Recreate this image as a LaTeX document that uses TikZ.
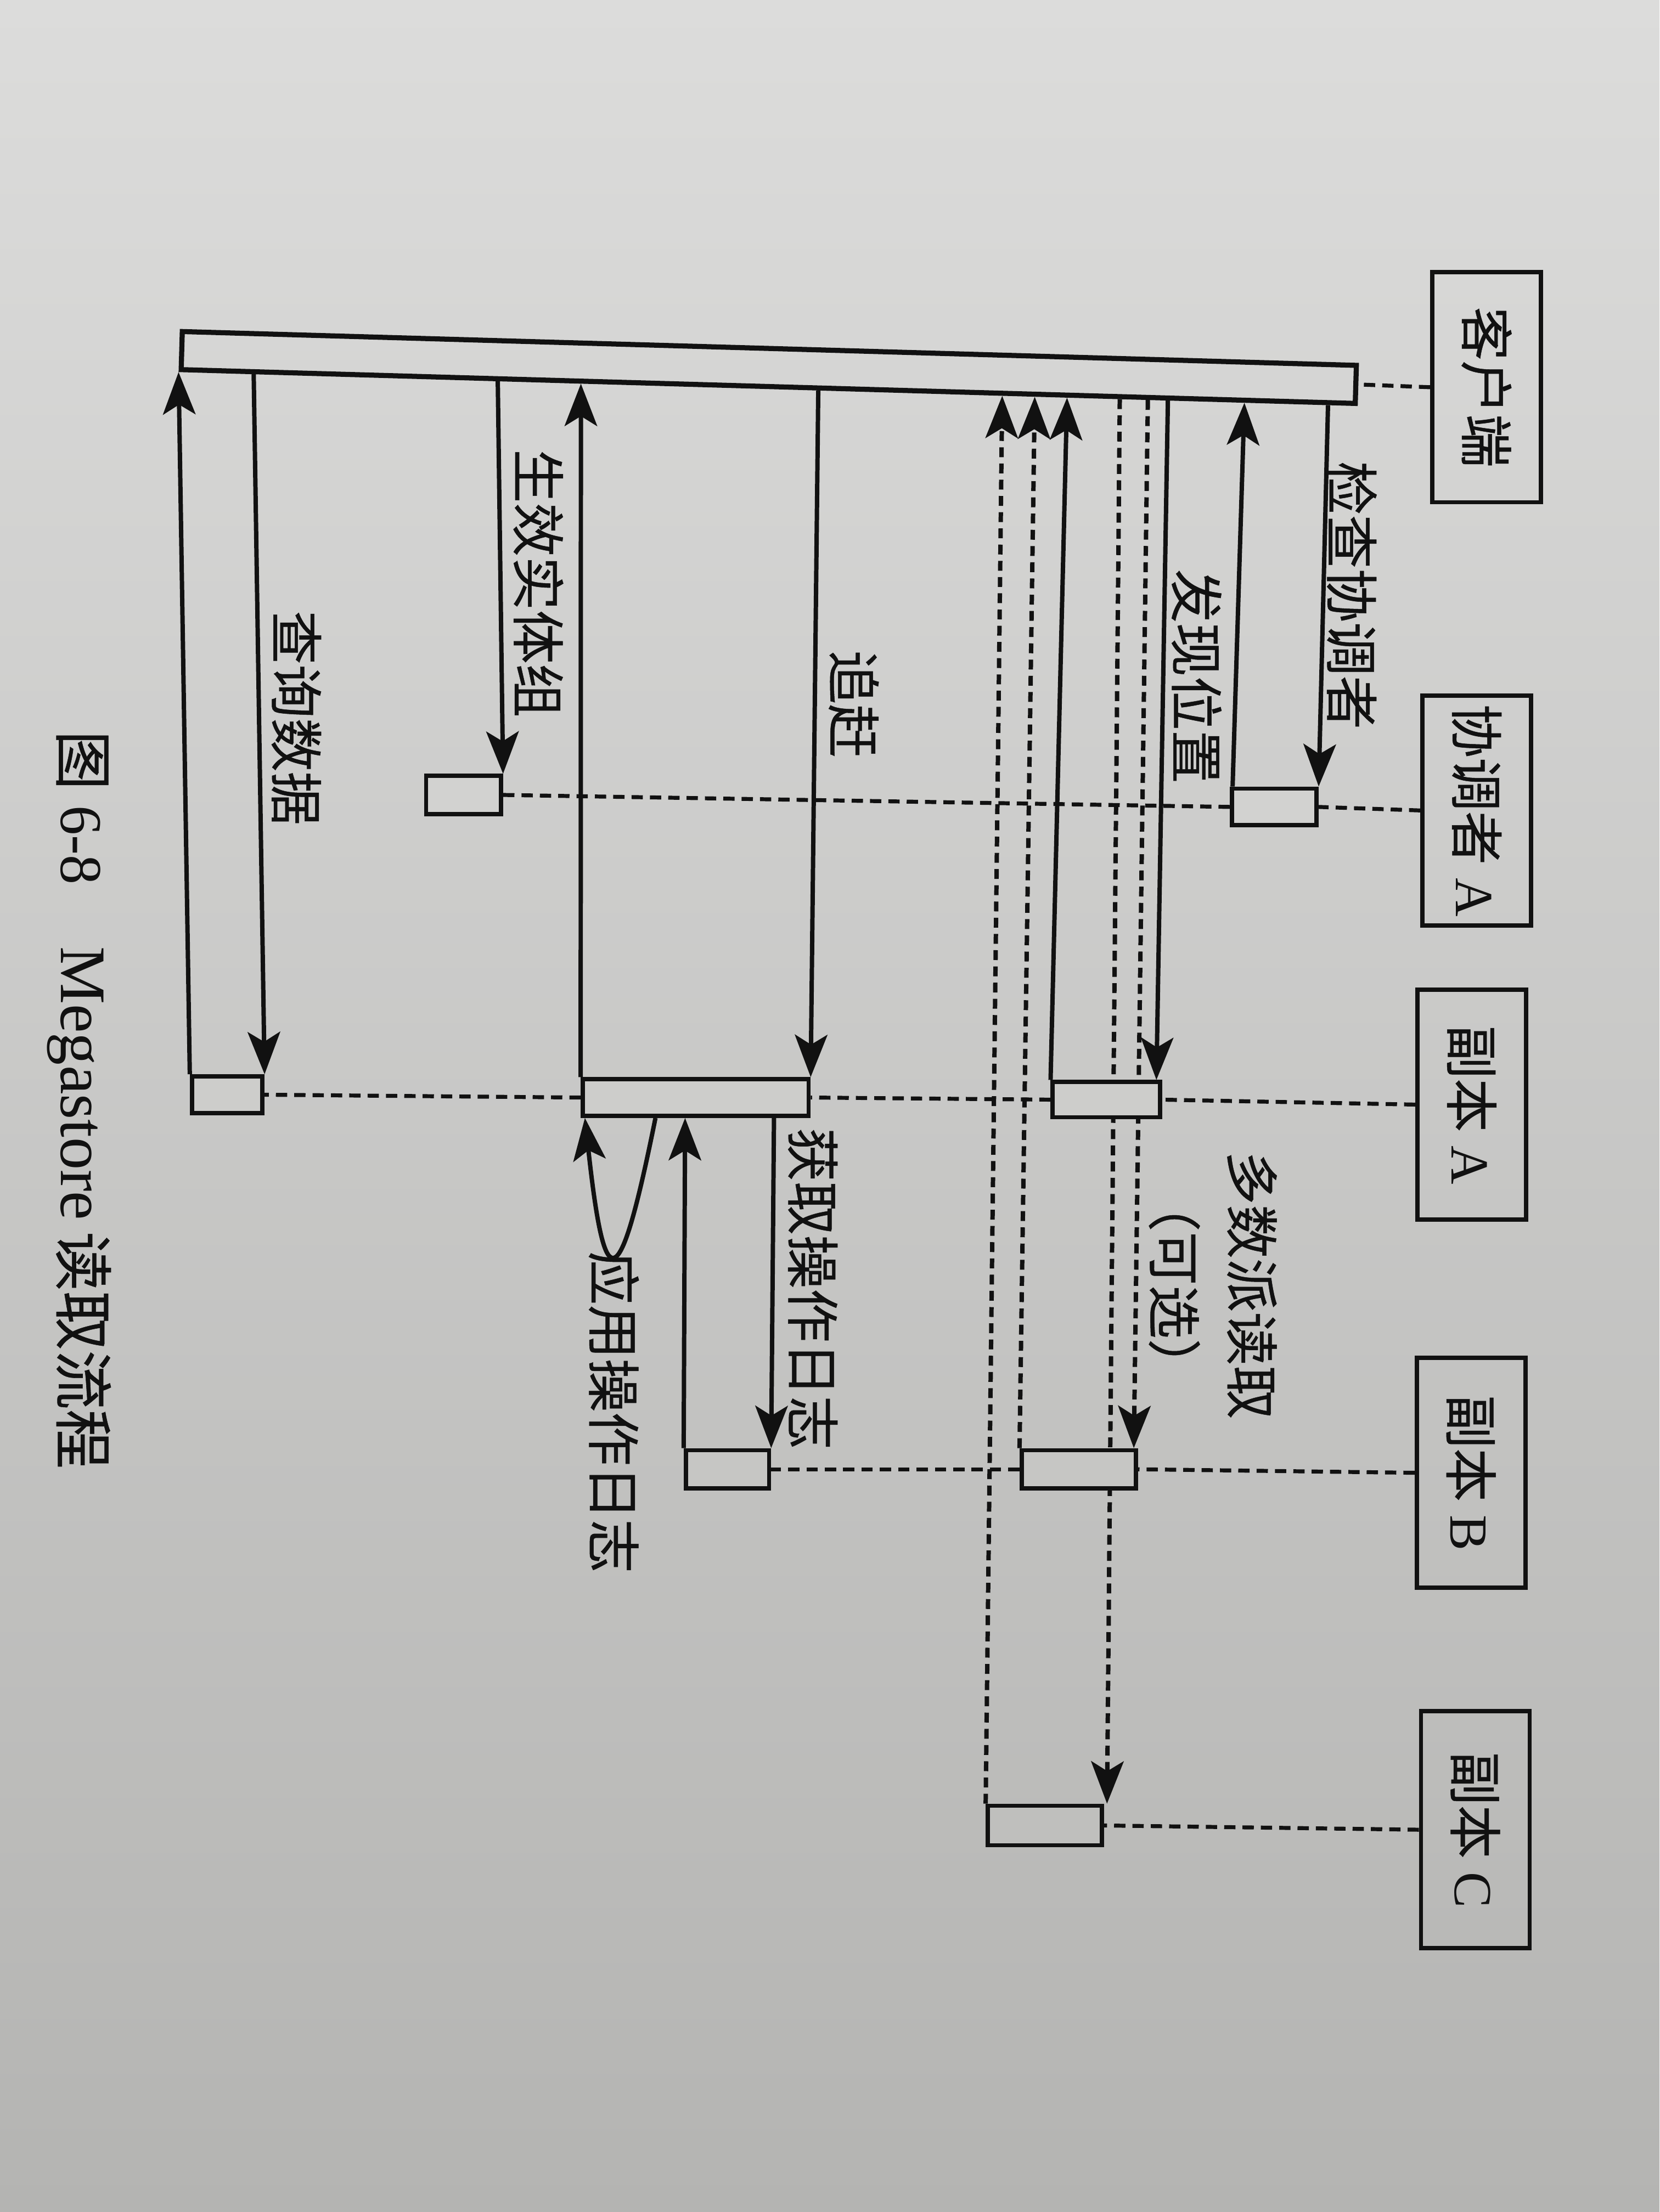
\documentclass[tikz,border=0pt]{standalone}
\usepackage{graphicx}
\usepackage{fontspec}
\setmainfont{Liberation Serif}
\newfontfamily\cjk{Noto Sans CJK SC}[FakeBold=0.5]
\usetikzlibrary{arrows.meta,calc}

\pgfdeclarelayer{paper}
\pgfdeclarelayer{wires}
\pgfsetlayers{paper,wires,main}

\definecolor{ink}{HTML}{111111}
\definecolor{papertop}{HTML}{DCDCDB}
\definecolor{papermid}{HTML}{CDCDCB}
\definecolor{paperbot}{HTML}{B4B4B2}
% paper tone at the height of each row of boxes
\definecolor{fillco}{HTML}{D2D2D0}
\definecolor{fillra}{HTML}{CDCDCB}
\definecolor{fillrb}{HTML}{C6C6C4}
\definecolor{fillrc}{HTML}{BFBFBD}

\begin{document}
\begin{tikzpicture}[x=1pt,y=-1pt,
  headtip/.style={-{Stealth[length=30pt,width=23pt,inset=7pt]}},
  msgline/.style={draw=ink, line width=3.1pt, headtip},
  qline/.style={msgline, dash pattern=on 7pt off 4.5pt},
  lifeline/.style={draw=ink, line width=2.8pt, dash pattern=on 8pt off 5pt},
  partbox/.style={draw=ink, line width=3pt, minimum width=77pt, minimum height=163pt,
    inner sep=0pt, text=ink, font=\fontsize{38}{46}\selectfont},
  actbox/.style={draw=ink, line width=3pt, inner sep=0pt},
  msglabel/.style={rotate=-90, inner sep=0pt, text=ink, align=center,
    font=\cjk\fontsize{38}{55}\selectfont}
]
\useasboundingbox (0,0) rectangle (1176,1568);

% page
\begin{pgfonlayer}{paper}
  \shade[top color=papertop, middle color=papermid, bottom color=paperbot]
    (0,0) rectangle (1176,1568);
\end{pgfonlayer}

% participants
\node[partbox] (cli) at (1053.5,274.5) {\rotatebox{-90}{\cjk 客户端}};
\node[partbox] (coo) at (1046.5,574.5) {\rotatebox{-90}{{\cjk 协调者} A}};
\node[partbox] (rA)  at (1043,783)     {\rotatebox{-90}{{\cjk 副本} A}};
\node[partbox] (rB)  at (1042.5,1044)  {\rotatebox{-90}{{\cjk 副本} B}};
\node[partbox, minimum height=168pt] (rC) at (1045.5,1297) {\rotatebox{-90}{{\cjk 副本} C}};

% client activation bar
\node[draw=ink, line width=3.6pt, inner sep=0pt, minimum width=832.4pt, minimum height=27pt,
      rotate=-1.65] (cb) at (544.8,260.5) {};

% activation boxes
\node[actbox, fill=fillco, minimum width=60pt, minimum height=26pt] (co1) at (903,572) {};
\node[actbox, fill=fillco, minimum width=53pt, minimum height=27pt] (ve)  at (328.5,563.5) {};
\node[actbox, fill=fillra, minimum width=76pt, minimum height=25pt] (a1)  at (784,779.5) {};
\node[actbox, fill=fillra, minimum width=160pt, minimum height=26pt] (cu) at (493,778) {};
\node[actbox, fill=fillra, minimum width=50pt, minimum height=26pt] (qd)  at (161,776) {};
\node[actbox, fill=fillrb, minimum width=59pt, minimum height=27pt] (gl)  at (515.5,1041.5) {};
\node[actbox, fill=fillrb, minimum width=81pt, minimum height=27pt] (qb)  at (764.5,1041.5) {};
\node[actbox, fill=fillrc, minimum width=81pt, minimum height=28pt] (qc)  at (740.5,1294) {};

\begin{pgfonlayer}{wires}
  % lifelines
  \draw[lifeline] (cli.west) -- (cb.east);
  \draw[lifeline] (coo.west) -- (co1.east);
  \draw[lifeline] (co1.west) -- (ve.east);
  \draw[lifeline] (rA.west) -- (a1.east);
  \draw[lifeline] (a1.west) -- (cu.east);
  \draw[lifeline] (cu.west) -- (qd.east);
  \draw[lifeline] (rB.west) -- (qb.east);
  \draw[lifeline] (qb.west) -- (gl.east);
  \draw[lifeline] (rC.west) -- (qc.east);

  % check coordinator
  \draw[msgline] ($(cb.south west)!0.9748!(cb.south east)$) -- (co1.north east);
  \draw[msgline] ([xshift=2pt]co1.north west) -- ($(cb.south west)!0.9039!(cb.south east)$);
  % find position
  \draw[msgline] ($(cb.south west)!0.8390!(cb.south east)$) -- ([xshift=-4pt]a1.north east);
  \draw[msgline] (a1.north west) -- ($(cb.south west)!0.7535!(cb.south east)$);
  % majority read (optional)
  \draw[qline] ($(cb.south west)!0.8220!(cb.south east)$) -- ([xshift=-3pt]qb.north east);
  \draw[qline] ($(cb.south west)!0.7982!(cb.south east)$) -- ([xshift=2pt]qc.north east);
  \draw[qline] (qb.north west) -- ($(cb.south west)!0.7261!(cb.south east)$);
  \draw[qline] (qc.north west) -- ($(cb.south west)!0.6985!(cb.south east)$);
  % catch up
  \draw[msgline] ($(cb.south west)!0.5425!(cb.south east)$) -- (cu.north east);
  \draw[msgline] (cu.north west) -- ($(cb.south west)!0.3412!(cb.south east)$);
  % fetch log from replica B
  \draw[msgline] ([xshift=-26pt]cu.south east) -- (gl.north east);
  \draw[msgline] (gl.north west) -- ([xshift=74pt]cu.south west);
  % apply log (self call)
  \draw[msgline] ([xshift=53pt]cu.south west) .. controls +(-26,129) and +(14,128) .. ([xshift=3pt]cu.south west);
  % validate entity group
  \draw[msgline] ($(cb.south west)!0.2707!(cb.south east)$) -- (ve.north east);
  % query data
  \draw[msgline] ($(cb.south west)!0.0637!(cb.south east)$) -- (qd.north east);
  \draw[msgline] (qd.north west) -- (cb.south west);
\end{pgfonlayer}

% message labels
\node[msglabel] (t1) at (958,422)    {检查协调者};
\node[msglabel] (t2) at (848,479.5)  {发现位置};
\node[msglabel] (t3) at (859.5,911)  {多数派读取\\（可选）};
\node[msglabel] (t4) at (605,499)    {追赶};
\node[msglabel] (t5) at (381.5,413.5) {生效实体组};
\node[msglabel] (t6) at (210,509)    {查询数据};
\node[msglabel] (t7) at (576,913.5)  {获取操作日志};
\node[msglabel] (t8) at (435,1001)   {应用操作日志};

% caption
\node[rotate=-90, inner sep=0pt, text=ink, font=\fontsize{42}{50}\selectfont] (cap) at (56,779.5)
  {{\cjk 图}\hspace{11pt}6-8\hspace{44pt}{\fontsize{46}{50}\selectfont Megastore}\hspace{8pt}{\cjk 读取流程}};
\end{tikzpicture}
\end{document}
